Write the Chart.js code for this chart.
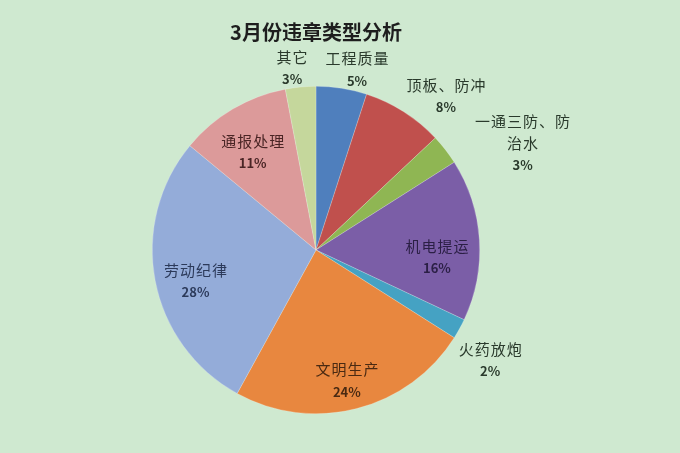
<!DOCTYPE html>
<html>
<head>
<meta charset="utf-8">
<script src="https://cdn.jsdelivr.net/npm/chart.js@4.4.1/dist/chart.umd.min.js"></script>
<style>
  html, body { margin: 0; padding: 0; background: #cfe9d0; }
  #wrap { width: 680px; height: 453px; }
</style>
</head>
<body>
<div id="wrap"><canvas id="pie"></canvas></div>
<script>
const title = "3月份违章类型分析"

const categories = ["工程质量", "顶板、防冲", "一通三防、防治水", "机电提运", "火药放炮", "文明生产", "劳动纪律", "通报处理", "其它"]
const percents = [5, 8, 3, 16, 2, 24, 28, 11, 3]

const sliceColors = ["#4f7fbd", "#c0504d", "#8fb653", "#7b5ea7", "#45a2c3", "#e8873f", "#94acd9", "#dc9a9a", "#c5d79c"]
const textColors = ["#2a3a2c", "#2a3a2c", "#2a3a2c", "#2b1f45", "#2a3a2c", "#4a2a12", "#2c3a5a", "#4a2525", "#2a3a2c"]
// label block placement: distance from centre (share of radius) and turn off the slice middle (degrees)
const labelDist = [1.13, 1.23, 1.42, 0.74, 1.26, 0.82, 0.76, 0.71, 1.12]
const labelTurn = [3.8, 7.8, 10.5, 6.9, 3.6, 1.1, -3.6, -2.4, -2.1]

const FONT = "'Noto Sans CJK SC', 'Noto Sans', sans-serif"

function wrapName(name) {
  if (name.length <= 6) return [name]
  return [name.slice(0, 6), name.slice(6)]
}

const sliceLabels = {
  id: "sliceLabels",
  afterDatasetsDraw(chart) {
    const ctx = chart.ctx
    const arcs = chart.getDatasetMeta(0).data
    ctx.save()
    ctx.textAlign = "center"
    ctx.textBaseline = "middle"
    arcs.forEach((arc, i) => {
      const p = arc.getProps(["x", "y", "startAngle", "endAngle", "outerRadius"], true)
      const mid = (p.startAngle + p.endAngle) / 2 + labelTurn[i] * Math.PI / 180
      const d = p.outerRadius * labelDist[i]
      const cx = p.x + Math.cos(mid) * d
      const cy = p.y + Math.sin(mid) * d
      const names = wrapName(categories[i])
      const lh = 22
      const top = cy - names.length * lh / 2
      ctx.fillStyle = textColors[i]
      ctx.font = "15px " + FONT
      ctx.letterSpacing = "1px"
      names.forEach((t, k) => ctx.fillText(t, cx + 0.5, top + k * lh))
      ctx.font = "bold 13px " + FONT
      ctx.letterSpacing = "0px"
      ctx.fillText(percents[i] + "%", cx, top + names.length * lh)
    })
    ctx.restore()
  }
}

new Chart(document.getElementById("pie"), {
  type: "pie",
  data: {
    labels: categories,
    datasets: [{
      data: percents,
      backgroundColor: sliceColors,
      borderColor: "rgba(255,255,255,0.35)",
      borderWidth: 0.6
    }]
  },
  options: {
    responsive: true,
    maintainAspectRatio: false,
    animation: false,
    layout: {
      padding: { left: 152, right: 200, top: 10, bottom: 39 }
    },
    plugins: {
      legend: { display: false },
      tooltip: { enabled: false },
      title: {
        display: true,
        text: title,
        color: "#1e1e1e",
        font: { family: FONT, size: 20, weight: "bold" },
        padding: { top: 10, bottom: 42 }
      }
    }
  },
  plugins: [sliceLabels]
})
</script>
</body>
</html>
